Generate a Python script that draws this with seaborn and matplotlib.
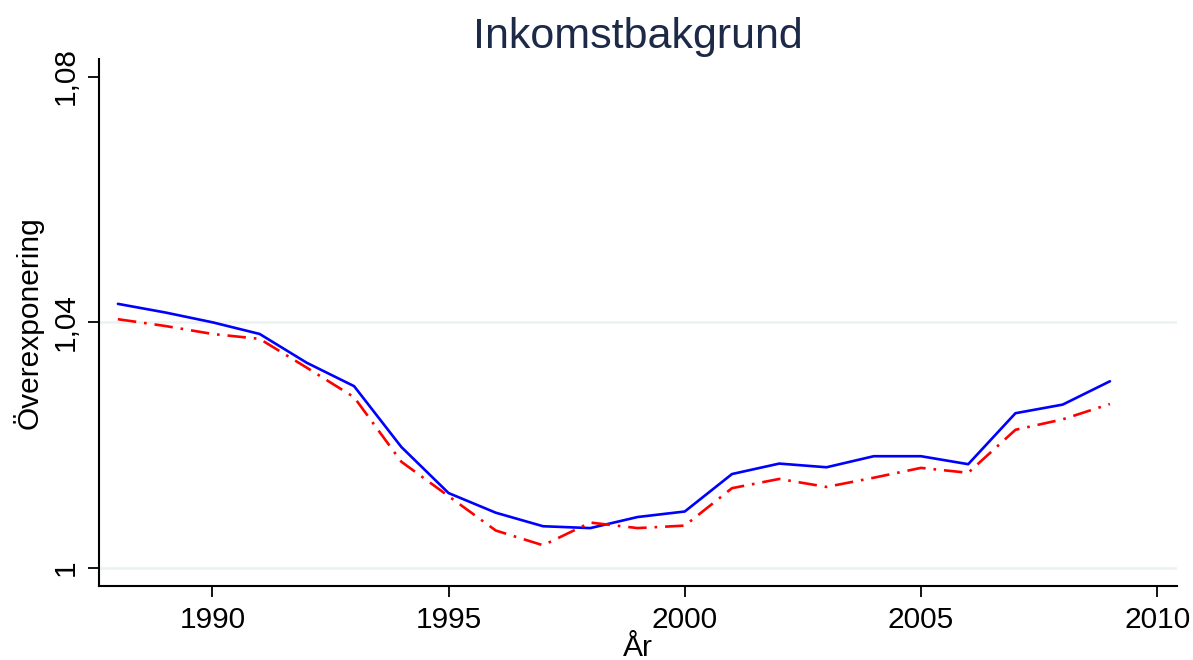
import matplotlib
matplotlib.use("Agg")
import matplotlib.pyplot as plt
import seaborn as sns
import pandas as pd

years = list(range(1988, 2010))
serie_hel = [1.0430, 1.0416, 1.0400, 1.0381, 1.0334, 1.0296, 1.0197, 1.0122,
             1.0090, 1.0068, 1.0065, 1.0083, 1.0092, 1.0153, 1.0170, 1.0164,
             1.0182, 1.0182, 1.0169, 1.0252, 1.0266, 1.0304]
serie_streck = [1.0405, 1.0394, 1.0381, 1.0373, 1.0326, 1.0278, 1.0173, 1.0117,
                1.0061, 1.0037, 1.0074, 1.0065, 1.0069, 1.0130, 1.0145, 1.0132,
                1.0147, 1.0163, 1.0155, 1.0225, 1.0242, 1.0267]
x_ticks = [1990, 1995, 2000, 2005, 2010]
y_ticks = [1.0, 1.04, 1.08]
y_tick_labels = ["1", "1,04", "1,08"]

df = pd.DataFrame({"year": years, "hel": serie_hel, "streck": serie_streck})

sns.set_style("white")
plt.rcParams['font.family'] = ['Liberation Sans', 'DejaVu Sans']

fig = plt.figure(figsize=(11.93, 6.6), dpi=100)
ax = fig.add_axes([0.083, 0.112, 0.9036, 0.799])

# grid lines (Stata style, light)
for yv in [1.0, 1.04]:
    ax.axhline(yv, color='#eaf2f3', linewidth=1.8, zorder=0)

sns.lineplot(x='year', y='hel', data=df, ax=ax, color='#0000ff', linewidth=1.9)
sns.lineplot(x='year', y='streck', data=df, ax=ax, color='#ff0000', linewidth=1.9,
             dashes=False)
ax.lines[-1].set_dashes([7, 3, 1, 3])

ax.set_xlim(1987.6, 2010.42)
ax.set_ylim(0.99706, 1.0829)

ax.set_xticks(x_ticks)
ax.set_xticklabels([str(t) for t in x_ticks], fontsize=21.5, color='black')
ax.set_yticks(y_ticks)
ax.set_yticklabels(y_tick_labels, fontsize=21.5, rotation=90, va='center', color='black')

ax.tick_params(axis='both', direction='out', length=8, width=1.3, color='black', pad=6,
               bottom=True, left=True)

for side in ['top', 'right']:
    ax.spines[side].set_visible(False)
for side in ['left', 'bottom']:
    ax.spines[side].set_color('black')
    ax.spines[side].set_linewidth(1.5)

ax.set_xlabel('År', fontsize=21.5, labelpad=0, color='black')
ax.set_ylabel('Överexponering', fontsize=21.5, labelpad=6, color='black')
ax.set_title('Inkomstbakgrund', fontsize=31, color='#1c2a48', pad=8)

fig.savefig('out.png', dpi=100)
